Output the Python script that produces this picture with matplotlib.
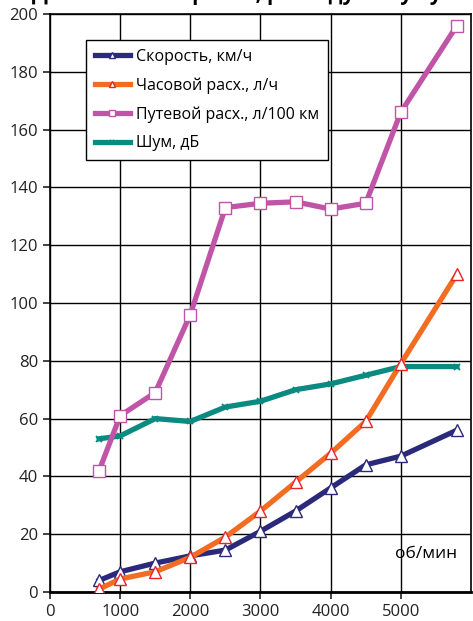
import numpy as np
import matplotlib.pyplot as plt

rpm = [700, 1000, 1500, 2000, 2500, 3000, 3500, 4000, 4500, 5000, 5800]
speed = [4, 7, 10, 12.5, 14.5, 21, 28, 36, 44, 47, 56]
hourly = [1, 4.5, 7, 12, 19, 28, 38, 48, 59, 79, 110]
route = [42, 61, 69, 96, 133, 134.5, 135, 132.5, 134.5, 166, 196]
noise = [53, 54, 60, 59, 64, 66, 70, 72, 75, 78, 78]

labels = ['Скорость, км/ч', 'Часовой расх., л/ч',
          'Путевой расх., л/100 км', 'Шум, дБ']

plt.rcParams['font.family'] = ['Open Sans', 'DejaVu Sans']

fig = plt.figure(figsize=(4.73, 6.21), dpi=100)
ax = fig.add_axes([0.1057, 0.0467, 0.89, 0.9308])

lw = 3.8
ax.plot(rpm, speed, color='#2b2a7a', lw=lw, marker='^', ms=8.5,
        mfc='white', mec='#2b2a7a', mew=1.0, label=labels[0], zorder=4)
ax.plot(rpm, hourly, color='#f26d22', lw=lw, marker='^', ms=8.5,
        mfc='white', mec='#e8252c', mew=1.0, label=labels[1], zorder=5)
ax.plot(rpm, route, color='#c055a8', lw=lw, marker='s', ms=8.5,
        mfc='white', mec='#c055a8', mew=1.0, label=labels[2], zorder=4)
ax.plot(rpm, noise, color='#0a8a80', lw=lw, marker='x', ms=5,
        mec='#0a8a80', mew=1.3, label=labels[3], zorder=3)

ax.set_xlim(0, 6000)
ax.set_ylim(0, 200)
ax.set_xticks(np.arange(0, 6000, 1000))
ax.set_yticks(np.arange(0, 201, 20))
ax.grid(True, color='black', lw=1.0)
ax.set_axisbelow(True)
ax.tick_params(labelsize=12, length=5, width=1.2, colors='#222222')
for s in ax.spines.values():
    s.set_linewidth(1.2)
ax.spines['bottom'].set_linewidth(2)

ax.text(5800, 13, 'об/мин', fontsize=12.5, ha='right', va='center')

leg = ax.legend(loc='upper left', bbox_to_anchor=(0.0855, 0.955),
                borderaxespad=0, fancybox=False, edgecolor='black',
                framealpha=1, prop={'size': 11.5}, markerscale=0.55,
                handlelength=2.2, handletextpad=0.4,
                borderpad=0.55, labelspacing=0.78)
leg.get_frame().set_linewidth(1.0)

fig.text(0.5, 1 - 5 / 621, 'Данные по скорости, расходу и шуму',
         fontsize=15, fontweight='bold', ha='center', va='bottom')

fig.savefig('out.png', dpi=100)
